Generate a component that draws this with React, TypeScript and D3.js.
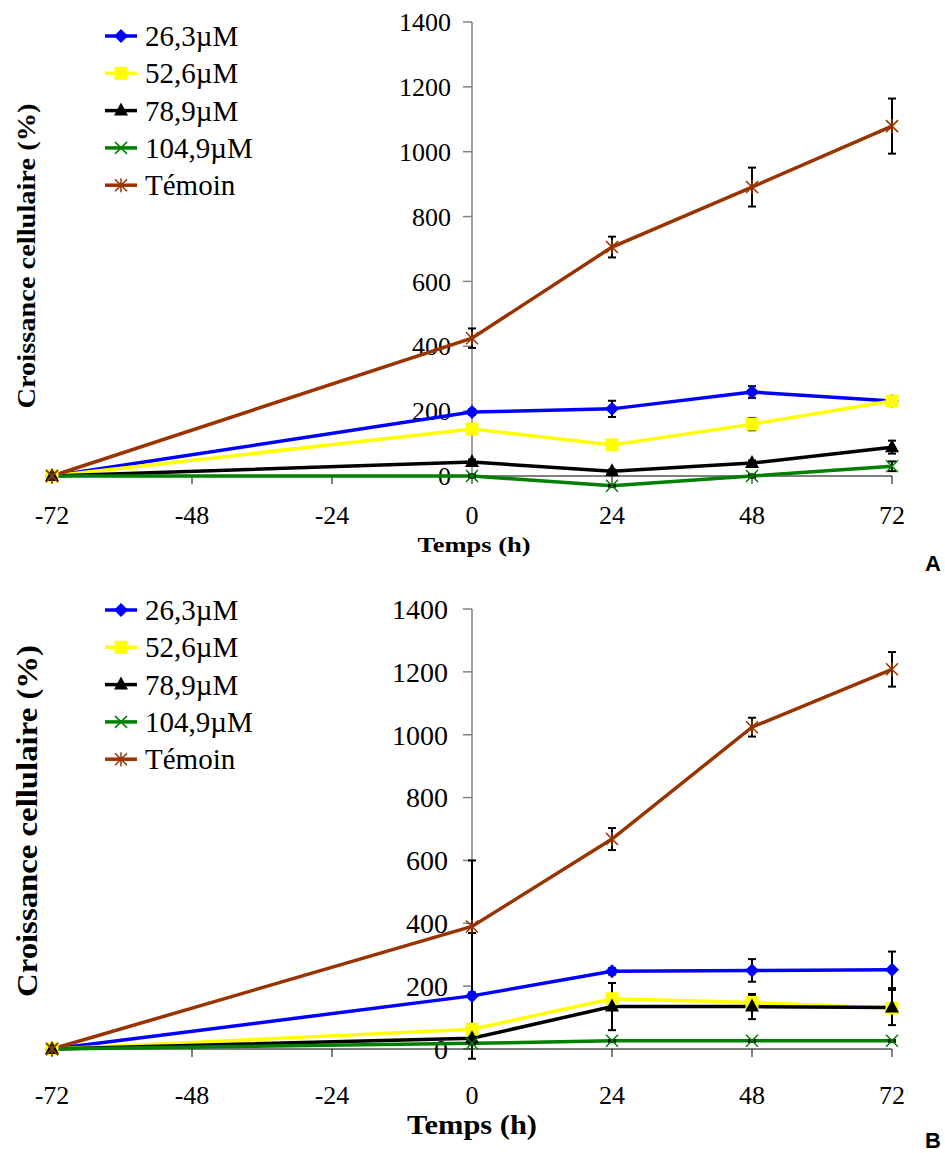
import React from "react";
import * as d3 from "d3";

// time points (h)
const times = [-72, 0, 24, 48, 72];
const xTicks = [-72, -48, -24, 0, 24, 48, 72];
const yTicks = [0, 200, 400, 600, 800, 1000, 1200, 1400];
const seriesNames = ["26,3µM", "52,6µM", "78,9µM", "104,9µM", "Témoin"];
const seriesColors = ["#0000ff", "#ffff00", "#000000", "#008000", "#993300"];
const seriesMarkers = ["diamond", "square", "triangle", "x", "star"];

// panel A
const a26 = [0, 197, 207, 259, 231];
const a52 = [0, 145, 96, 160, 231];
const a78 = [0, 43, 15, 40, 89];
const a104 = [0, 0, -30, 0, 30];
const aTem = [0, 425, 706, 891, 1079];
const a26Err = [0, 8, 25, 18, 8];
const a52Err = [0, 5, 5, 19, 8];
const a78Err = [0, 8, 5, 8, 20];
const a104Err = [0, 5, 3, 5, 15];
const aTemErr = [0, 30, 32, 60, 85];

// panel B
const b26 = [0, 169, 247, 250, 252];
const b52 = [0, 63, 160, 148, 130];
const b78 = [0, 34, 135, 135, 132];
const b104 = [0, 18, 26, 26, 26];
const bTem = [0, 390, 668, 1024, 1208];
const b26Err = [0, 200, 10, 36, 58];
const b52Err = [0, 10, 10, 24, 10];
const b78Err = [0, 10, 75, 40, 56];
const b104Err = [0, 3, 3, 3, 3];
const bTemErr = [0, 210, 35, 30, 55];

const serif = "Liberation Serif";

function Marker({ kind, x, y, color }) {
  if (kind === "diamond") {
    return <path d={`M${x},${y - 7}L${x + 7},${y}L${x},${y + 7}L${x - 7},${y}Z`} fill={color} />;
  }
  if (kind === "square") {
    return <rect x={x - 6.5} y={y - 6.5} width={13} height={13} fill={color} />;
  }
  if (kind === "triangle") {
    return <path d={`M${x},${y - 8}L${x + 7},${y + 5}L${x - 7},${y + 5}Z`} fill={color} />;
  }
  if (kind === "x") {
    return (
      <path d={`M${x - 6},${y - 6}L${x + 6},${y + 6}M${x - 6},${y + 6}L${x + 6},${y - 6}`} stroke={color} strokeWidth={1.5} />
    );
  }
  return (
    <path
      d={`M${x - 6},${y - 6}L${x + 6},${y + 6}M${x - 6},${y + 6}L${x + 6},${y - 6}M${x},${y - 7}L${x},${y + 7}`}
      stroke={color}
      strokeWidth={1.5}
    />
  );
}

function Panel({ values, errors, top, bottom, yTickSize, yTickGap, legendTop, xLabelY, xTitle, yTitle, letter, letterY }) {
  const x = d3.scaleLinear().domain([-72, 72]).range([52, 892]);
  const y = d3.scaleLinear().domain([0, 1400]).range([bottom, top]);
  const line = d3
    .line<number>()
    .x((d, i) => x(times[i]))
    .y((d) => y(d));
  const x0 = x(0);

  return (
    <g>
      {/* y axis */}
      <line x1={x0} x2={x0} y1={y(1400)} y2={y(0)} stroke="#808080" strokeWidth={1.5} />
      {yTicks.map((t) => (
        <g key={t}>
          <line x1={x0 - 9} x2={x0} y1={y(t)} y2={y(t)} stroke="#808080" strokeWidth={1.5} />
          <text x={x0 - yTickGap} y={y(t)} dy="0.35em" textAnchor="end" fontFamily={serif} fontSize={yTickSize}>
            {t}
          </text>
        </g>
      ))}
      {/* x axis */}
      <line x1={x(-72)} x2={x(72)} y1={y(0)} y2={y(0)} stroke="#000" strokeWidth={1} />
      {xTicks.map((t) => (
        <g key={t}>
          <line x1={x(t)} x2={x(t)} y1={y(0)} y2={y(0) + 8} stroke="#000" strokeWidth={1} />
          <text x={x(t)} y={xLabelY} dy="0.35em" textAnchor="middle" fontFamily={serif} fontSize={26}>
            {t}
          </text>
        </g>
      ))}
      <text
        x={xTitle.x}
        y={xTitle.y}
        dy="0.35em"
        textAnchor="middle"
        fontFamily={serif}
        fontWeight="bold"
        fontSize={xTitle.size}
        textLength={xTitle.len}
        lengthAdjust="spacingAndGlyphs"
      >
        Temps (h)
      </text>
      <text
        transform={`translate(${yTitle.x},${yTitle.y}) rotate(-90)`}
        dy="0.35em"
        textAnchor="middle"
        fontFamily={serif}
        fontWeight="bold"
        fontSize={yTitle.size}
        textLength={yTitle.len}
        lengthAdjust="spacingAndGlyphs"
      >
        Croissance cellulaire (%)
      </text>
      <text x={933} y={letterY} dy="0.35em" textAnchor="middle" fontFamily="Liberation Sans" fontWeight="bold" fontSize={22}>
        {letter}
      </text>

      {/* lines */}
      {values.map((v, si) => (
        <path key={si} d={line(v)} fill="none" stroke={seriesColors[si]} strokeWidth={3.5} />
      ))}
      {/* error bars */}
      {values.map((v, si) =>
        v.map((d, i) =>
          errors[si][i] > 0 ? (
            <g key={`${si}-${i}`} stroke="#000" strokeWidth={2}>
              <line x1={x(times[i])} x2={x(times[i])} y1={y(d + errors[si][i])} y2={y(d - errors[si][i])} />
              <line x1={x(times[i]) - 4} x2={x(times[i]) + 4} y1={y(d + errors[si][i])} y2={y(d + errors[si][i])} />
              <line x1={x(times[i]) - 4} x2={x(times[i]) + 4} y1={y(d - errors[si][i])} y2={y(d - errors[si][i])} />
            </g>
          ) : null
        )
      )}
      {/* markers */}
      {values.map((v, si) =>
        v.map((d, i) => <Marker key={`${si}-${i}`} kind={seriesMarkers[si]} x={x(times[i])} y={y(d)} color={seriesColors[si]} />)
      )}

      {/* legend */}
      {seriesNames.map((name, si) => {
        const ly = legendTop + si * 37.3;
        return (
          <g key={name}>
            <line x1={105} x2={137} y1={ly} y2={ly} stroke={seriesColors[si]} strokeWidth={3.5} />
            <Marker kind={seriesMarkers[si]} x={121} y={ly} color={seriesColors[si]} />
            <text x={145} y={ly} dy="0.35em" fontFamily={serif} fontSize={29}>
              {name}
            </text>
          </g>
        );
      })}
    </g>
  );
}

export default function App() {
  return (
    <svg width={945} height={1153} style={{ position: "absolute", left: 0, top: 0, background: "#fff" }}>
      <Panel
        values={[a26, a52, a78, a104, aTem]}
        errors={[a26Err, a52Err, a78Err, a104Err, aTemErr]}
        top={22}
        bottom={476}
        yTickSize={26}
        yTickGap={21}
        legendTop={36}
        xLabelY={515}
        xTitle={{ x: 474, y: 544, size: 22, len: 113 }}
        yTitle={{ x: 26, y: 256, size: 25, len: 305 }}
        letter="A"
        letterY={563}
      />
      <Panel
        values={[b26, b52, b78, b104, bTem]}
        errors={[b26Err, b52Err, b78Err, b104Err, bTemErr]}
        top={609}
        bottom={1049}
        yTickSize={28}
        yTickGap={24}
        legendTop={610}
        xLabelY={1095}
        xTitle={{ x: 472, y: 1125, size: 27, len: 130 }}
        yTitle={{ x: 27, y: 821, size: 29, len: 352 }}
        letter="B"
        letterY={1140}
      />
    </svg>
  );
}
